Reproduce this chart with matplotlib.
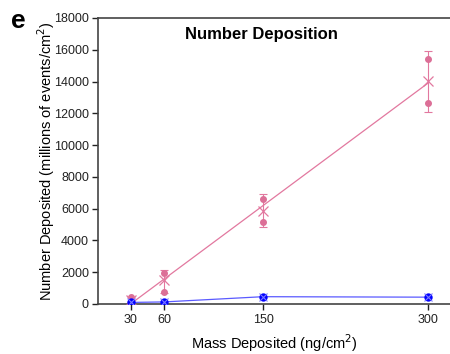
import matplotlib
matplotlib.use("Agg")
import matplotlib.pyplot as plt
import numpy as np

plt.rcParams['font.family'] = ['Liberation Sans', 'DejaVu Sans']

mass = [30, 60, 150, 300]
pink_mean = [250, 1510, 5870, 14050]
pink_err_lo = [150, 800, 1050, 1950]
pink_err_hi = [200, 600, 1030, 1900]
pink_rep1 = [420, 1930, 6610, 15420]
pink_rep2 = [250, 780, 5140, 12670]
blue_mean = [100, 130, 460, 430]
blue_err = [40, 40, 60, 50]
xticks = [30, 60, 150, 300]
yticks = [0, 2000, 4000, 6000, 8000, 10000, 12000, 14000, 16000, 18000]

pink = '#e2789f'
pink_dark = '#dc6f97'
blue = '#0000ff'

fig = plt.figure(figsize=(4.5, 3.54), dpi=100)
ax = fig.add_axes([98/450, 50/354, 1 - 98/450, (304-18)/354])

# linear fit of pink means
coef = np.polyfit(mass, pink_mean, 1)
xfit = np.array([mass[0], mass[-1]])
ax.plot(xfit, np.polyval(coef, xfit), color=pink, lw=0.9, zorder=2)

ax.errorbar(mass, pink_mean, yerr=[pink_err_lo, pink_err_hi], fmt='none',
            ecolor=pink, elinewidth=0.8, capsize=3, capthick=0.8, zorder=3)
ax.plot(mass, pink_rep1, 'o', color=pink_dark, ms=4, zorder=4)
ax.plot(mass, pink_rep2, 'o', color=pink_dark, ms=4, zorder=4)
ax.plot(mass, pink_mean, 'x', color=pink, ms=6.5, mew=0.9, zorder=5)

ax.plot(mass, blue_mean, '-', color='#5a5aff', lw=0.9, zorder=6)
ax.errorbar(mass, blue_mean, yerr=blue_err, fmt='none', ecolor='#6a6aff',
            elinewidth=0.7, capsize=2, zorder=6)
ax.plot(mass, blue_mean, 'o', color=blue, ms=5, zorder=7)
ax.plot(mass, blue_mean, 'x', color='#7a7aff', ms=6, mew=0.8, zorder=8)

ax.set_xlim(0, 320)
ax.set_ylim(0, 18000)
ax.set_xticks(xticks)
ax.set_yticks(yticks)
ax.tick_params(axis='both', direction='out', length=4.5, width=1, labelsize=9, colors='#222222', pad=2)
ax.tick_params(axis='x', pad=3)
for s in ['left', 'bottom', 'top']:
    ax.spines[s].set_linewidth(1.2)
    ax.spines[s].set_color('#444444')
ax.spines['right'].set_visible(False)

ax.set_xlabel('Mass Deposited (ng/cm$^2$)', fontsize=10.5, labelpad=4)
ax.set_ylabel('Number Deposited (millions of events/cm$^2$)', fontsize=10.5, labelpad=-2)
ax.text((261 - 98) / 352, 1 - 9 / 286, 'Number Deposition', transform=ax.transAxes,
        ha='center', va='top', fontsize=12, fontweight='bold')
fig.text(18/450, 1 - 21/354, 'e', fontsize=19, fontweight='bold', ha='center', va='center')

fig.savefig('out.png', dpi=100)
